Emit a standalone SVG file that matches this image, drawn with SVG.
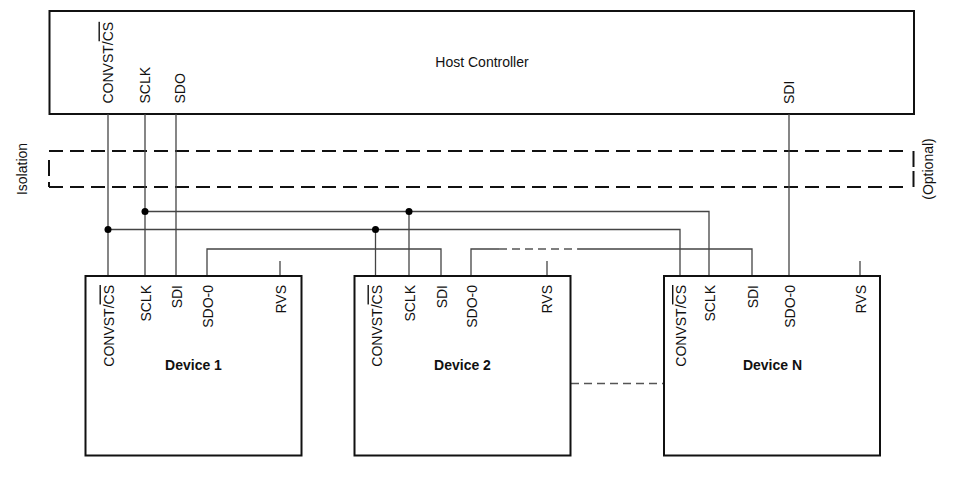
<svg xmlns="http://www.w3.org/2000/svg" width="964" height="502" viewBox="0 0 964 502">
<style>
  .box { fill: #fff; stroke: #111; stroke-width: 2; }
  .wire { fill: none; stroke: #444; stroke-width: 1.3; }
  .dwire { fill: none; stroke: #555; stroke-width: 1.3; stroke-dasharray: 8 5; }
  .iso { fill: none; stroke: #111; stroke-width: 2; stroke-dasharray: 14 7; }
  .isos { fill: none; stroke: #111; stroke-width: 2; }
  .dot { fill: #000; }
  text { font-family: "Liberation Sans", Arial, sans-serif; font-size: 14px; fill: #111; }
  .title { font-weight: bold; text-anchor: middle; }
  .pin { text-anchor: end; }
  .hpin { text-anchor: start; }
  .ol { text-decoration: overline; }
</style>

<g id="host">
  <rect class="box" x="49.5" y="11" width="864.5" height="103"/>
  <text x="482" y="67" text-anchor="middle">Host Controller</text>
  <text class="hpin" transform="translate(112.5,103.5) rotate(-90)">CONVST/<tspan class="ol">CS</tspan></text>
  <text class="hpin" transform="translate(150,103.5) rotate(-90)">SCLK</text>
  <text class="hpin" transform="translate(185,103.5) rotate(-90)">SDO</text>
  <text class="hpin" transform="translate(794,104) rotate(-90)">SDI</text>
</g>

<g id="isolation">
  <line class="iso" x1="49" y1="151" x2="906" y2="151"/>
  <line class="iso" x1="49" y1="187" x2="906" y2="187"/>
  <line class="isos" x1="49" y1="160" x2="49" y2="176"/>
  <line class="isos" x1="49" y1="182" x2="49" y2="187"/>
  <line class="isos" x1="913.5" y1="151" x2="913.5" y2="167"/>
  <line class="isos" x1="913.5" y1="171" x2="913.5" y2="187"/>
  <text transform="translate(27,169) rotate(-90)" text-anchor="middle">Isolation</text>
  <text transform="translate(933,169) rotate(-90)" text-anchor="middle">(Optional)</text>
</g>

<g id="connectors">
  <line class="wire" x1="108" y1="114" x2="108" y2="276"/>
  <line class="wire" x1="145" y1="114" x2="145" y2="276"/>
  <line class="wire" x1="176" y1="114" x2="176" y2="276"/>
  <line class="wire" x1="789" y1="114" x2="789" y2="276"/>
  <path class="wire" d="M145,211.5 H709 V276"/>
  <line class="wire" x1="409" y1="211.5" x2="409" y2="276"/>
  <path class="wire" d="M108,229.5 H680 V276"/>
  <line class="wire" x1="375.5" y1="229.5" x2="375.5" y2="276"/>
  <path class="wire" d="M207,276 V249 H441 V276"/>
  <path class="wire" d="M471,276 V249 H499"/>
  <line class="dwire" x1="499" y1="249" x2="578" y2="249"/>
  <path class="wire" d="M578,249 H752 V276"/>
  <line class="wire" x1="280" y1="261" x2="280" y2="276"/>
  <line class="wire" x1="547" y1="261" x2="547" y2="276"/>
  <line class="wire" x1="860" y1="261" x2="860" y2="276"/>
  <line class="dwire" x1="571" y1="383.5" x2="664" y2="383.5"/>
  <circle class="dot" cx="145" cy="211.5" r="3.5"/>
  <circle class="dot" cx="409" cy="211.5" r="3.5"/>
  <circle class="dot" cx="108" cy="229.5" r="3.5"/>
  <circle class="dot" cx="375.5" cy="229.5" r="3.5"/>
</g>

<g id="device1">
  <rect class="box" x="85.5" y="276" width="216" height="179.5"/>
  <text class="pin" transform="translate(113.5,285) rotate(-90)">CONVST/<tspan class="ol">CS</tspan></text>
  <text class="pin" transform="translate(150.5,285) rotate(-90)">SCLK</text>
  <text class="pin" transform="translate(181.5,285) rotate(-90)">SDI</text>
  <text class="pin" transform="translate(213,285) rotate(-90)">SDO-0</text>
  <text class="pin" transform="translate(285.5,285) rotate(-90)">RVS</text>
  <text class="title" x="193.5" y="370">Device 1</text>
</g>

<g id="device2">
  <rect class="box" x="354.5" y="276" width="216" height="179.5"/>
  <text class="pin" transform="translate(381.5,285) rotate(-90)">CONVST/<tspan class="ol">CS</tspan></text>
  <text class="pin" transform="translate(415,285) rotate(-90)">SCLK</text>
  <text class="pin" transform="translate(447,285) rotate(-90)">SDI</text>
  <text class="pin" transform="translate(476.5,285) rotate(-90)">SDO-0</text>
  <text class="pin" transform="translate(552,285) rotate(-90)">RVS</text>
  <text class="title" x="462.5" y="370">Device 2</text>
</g>

<g id="deviceN">
  <rect class="box" x="664" y="276" width="216" height="179.5"/>
  <text class="pin" transform="translate(686,285) rotate(-90)">CONVST/<tspan class="ol">CS</tspan></text>
  <text class="pin" transform="translate(715,285) rotate(-90)">SCLK</text>
  <text class="pin" transform="translate(757.5,285) rotate(-90)">SDI</text>
  <text class="pin" transform="translate(794.5,285) rotate(-90)">SDO-0</text>
  <text class="pin" transform="translate(865.5,285) rotate(-90)">RVS</text>
  <text class="title" x="772.5" y="370">Device N</text>
</g>
</svg>
